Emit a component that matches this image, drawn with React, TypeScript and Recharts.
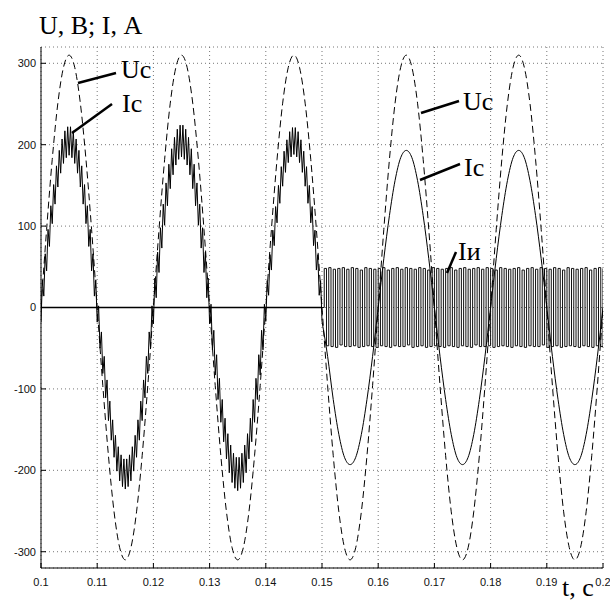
import React from 'react';
import { LineChart, Line, XAxis, YAxis, CartesianGrid } from 'recharts';

// Mains voltage Uc, sampled every 0.001 s from t = 0.1 s
const ucStart = 0.1;
const ucStep = 0.001;
const ucValues = [
  0, 96, 182, 251, 295, 310, 295, 251, 182, 96, 0, -96, -182, -251, -295, -310, -295, -251, -182, -96,
  0, 96, 182, 251, 295, 310, 295, 251, 182, 96, 0, -96, -182, -251, -295, -310, -295, -251, -182, -96,
  0, 96, 182, 251, 295, 310, 295, 251, 182, 96, 0, -96, -182, -251, -295, -310, -295, -251, -182, -96,
  0, 96, 182, 251, 295, 310, 295, 251, 182, 96, 0, -96, -182, -251, -295, -310, -295, -251, -182, -96,
  0, 96, 182, 251, 295, 310, 295, 251, 182, 96, 0, -96, -182, -251, -295, -310, -295, -251, -182, -96,
  0,
];

// Mains current Ic with switching ripple (0.1 .. 0.15 s), every 0.00025 s
const icRippleStart = 0.1;
const icRippleStep = 0.00025;
const icRippleValues = [
  -18, 34, 14, 66, 45, 96, 75, 125, 103, 151, 127, 174, 148, 193, 165, 207, 177, 217, 184, 222,
  187, 222, 184, 217, 177, 207, 165, 193, 148, 174, 127, 151, 103, 125, 75, 96, 45, 66, 14, 34,
  -18, 2, -50, -30, -81, -60, -111, -89, -139, -115, -163, -138, -184, -157, -201, -171, -213, -181, -220, -186,
  -223, -186, -220, -181, -213, -171, -201, -157, -184, -138, -163, -115, -139, -89, -111, -60, -81, -30, -50, 2,
  -20, 36, 12, 68, 43, 98, 73, 127, 101, 153, 125, 176, 146, 195, 163, 209, 175, 219, 182, 224,
  185, 224, 182, 219, 175, 209, 163, 195, 146, 176, 125, 153, 101, 127, 73, 98, 43, 68, 12, 36,
  -20, 4, -52, -28, -83, -58, -113, -87, -141, -113, -165, -136, -186, -155, -203, -169, -215, -179, -222, -184,
  -225, -184, -222, -179, -215, -169, -203, -155, -186, -136, -165, -113, -141, -87, -113, -58, -83, -28, -52, 4,
  -17, 33, 15, 65, 46, 95, 76, 124, 104, 150, 128, 173, 149, 192, 166, 206, 178, 216, 185, 221,
  188, 221, 185, 216, 178, 206, 166, 192, 149, 173, 128, 150, 104, 124, 76, 95, 46, 65, 15, 33,
  -17,
];

// Mains current Ic after compensation (0.15 .. 0.2 s), every 0.001 s
const icSmoothStart = 0.15;
const icSmoothStep = 0.001;
const icSmoothValues = [
  -17, -60, -113, -156, -184, -193, -184, -156, -113, -60, 0, 60, 113, 156, 184, 193, 184, 156, 113, 60,
  0, -60, -113, -156, -184, -193, -184, -156, -113, -60, 0, 60, 113, 156, 184, 193, 184, 156, 113, 60,
  0, -60, -113, -156, -184, -193, -184, -156, -113, -60, 0,
];

// Inverter current Iи: idle until 0.15 s, then switching (every 0.0004 s)
const iiIdleTimes = [0.1, 0.15];
const iiIdleValues = [0, 0];
const iiSwitchStart = 0.15;
const iiSwitchStep = 0.0004;
const iiSwitchValues = [
  0, 48, -47, 49, -48, 47, -49, 48, -46, 49, -48,
  47, -48, 49, -47, 48, -49, 46, -48, 49, -47,
  48, -48, 47, -49, 48, -47, 49, -48, 46, -49,
  48, -47, 49, -48, 47, -48, 49, -46, 48, -49,
  47, -48, 49, -47, 48, -49, 46, -48, 49, -47,
  48, -48, 47, -49, 48, -47, 49, -48, 46, -49,
  48, -47, 49, -48, 47, -49, 48, -46, 49, -48,
  47, -48, 49, -47, 48, -49, 46, -48, 49, -47,
  48, -48, 47, -49, 48, -47, 49, -48, 46, -49,
  48, -47, 49, -48, 47, -48, 49, -46, 48, -49,
  47, -48, 49, -47, 48, -49, 46, -48, 49, -47,
  48, -48, 47, -49, 48, -47, 49, -48, 46, -49,
  48, -47, 49, -48, 48,
];

const xTicks = [0.1, 0.11, 0.12, 0.13, 0.14, 0.15, 0.16, 0.17, 0.18, 0.19, 0.2];
const xTickLabels = ['0.1', '0.11', '0.12', '0.13', '0.14', '0.15', '0.16', '0.17', '0.18', '0.19', '0.2'];
const yTicks = [-300, -200, -100, 0, 100, 200, 300];
const yTickLabels = ['-300', '-200', '-100', '0', '100', '200', '300'];

const toSeries = (start: number, step: number, values: number[]) =>
  values.map((v, i) => ({ t: +(start + i * step).toFixed(5), v }));

const ucData = toSeries(ucStart, ucStep, ucValues);
const icRippleData = toSeries(icRippleStart, icRippleStep, icRippleValues);
const icSmoothData = toSeries(icSmoothStart, icSmoothStep, icSmoothValues);
const iiIdleData = iiIdleTimes.map((t, i) => ({ t, v: iiIdleValues[i] }));
const iiSwitchData = toSeries(iiSwitchStart, iiSwitchStep, iiSwitchValues);

const tickFont = { fontFamily: '"Liberation Sans", Arial, sans-serif', fontSize: 11, fill: '#111' };
const serif = '"Liberation Serif", "DejaVu Serif", serif';

const XTick = (props: any) => {
  const { x, y, payload } = props;
  const idx = xTicks.findIndex((v) => Math.abs(v - payload.value) < 1e-6);
  return (
    <g>
      <line x1={x} x2={x} y1={y - 10} y2={y - 15} stroke="#000" strokeWidth={1} />
      <text x={x} y={y} dy="0.71em" textAnchor="middle" {...tickFont}>
        {idx >= 0 ? xTickLabels[idx] : payload.value}
      </text>
    </g>
  );
};

const YTick = (props: any) => {
  const { x, y, payload } = props;
  const idx = yTicks.indexOf(payload.value);
  return (
    <g>
      <line x1={x + 5} x2={x + 10} y1={y} y2={y} stroke="#000" strokeWidth={1} />
      <text x={x} y={y} dy="0.355em" textAnchor="end" {...tickFont}>
        {idx >= 0 ? yTickLabels[idx] : payload.value}
      </text>
    </g>
  );
};

export default function App() {
  return (
    <div style={{ position: 'absolute', left: 0, top: 0, width: 610, height: 605, background: '#fff' }}>
      <LineChart width={610} height={605} margin={{ top: 47, right: 7, bottom: 0, left: 0 }}>
        <CartesianGrid stroke="#777" strokeDasharray="1 3" strokeWidth={1} />
        <XAxis
          dataKey="t"
          type="number"
          domain={[0.1, 0.2]}
          ticks={xTicks}
          allowDataOverflow
          height={37}
          tickSize={0}
          tickMargin={10}
          tickLine={false}
          axisLine={{ stroke: '#000' }}
          tick={<XTick />}
          interval={0}
        />
        <XAxis
          xAxisId="top"
          orientation="top"
          dataKey="t"
          type="number"
          domain={[0.1, 0.2]}
          height={0}
          tick={false}
          tickLine={false}
          axisLine={{ stroke: '#000' }}
        />
        <YAxis
          type="number"
          domain={[-320, 320]}
          ticks={yTicks}
          allowDataOverflow
          width={41}
          tickSize={0}
          tickMargin={5}
          tickLine={false}
          axisLine={{ stroke: '#000' }}
          tick={<YTick />}
          interval={0}
        />
        <YAxis
          yAxisId="right"
          orientation="right"
          type="number"
          domain={[-320, 320]}
          width={0}
          tick={false}
          tickLine={false}
          axisLine={{ stroke: '#000' }}
        />
        <Line data={iiIdleData} dataKey="v" type="linear" stroke="#000" strokeWidth={1.6} dot={false} isAnimationActive={false} />
        <Line data={iiSwitchData} dataKey="v" type="stepAfter" stroke="#111" strokeWidth={1} dot={false} isAnimationActive={false} />
        <Line data={icRippleData} dataKey="v" type="linear" stroke="#000" strokeWidth={1} dot={false} isAnimationActive={false} />
        <Line data={icSmoothData} dataKey="v" type="monotone" stroke="#000" strokeWidth={1} dot={false} isAnimationActive={false} />
        <Line data={ucData} dataKey="v" type="monotone" stroke="#000" strokeWidth={1} strokeDasharray="7 4" dot={false} isAnimationActive={false} />
      </LineChart>
      <svg width={610} height={605} style={{ position: 'absolute', left: 0, top: 0, pointerEvents: 'none' }}>
        <text x={39} y={34} fontFamily={serif} fontSize={26} fill="#000">U, В; I, А</text>
        <line x1={78} y1={83} x2={116} y2={73} stroke="#000" strokeWidth={2.5} />
        <text x={121} y={78} fontFamily={serif} fontSize={26} fill="#000">Uс</text>
        <line x1={72} y1={133} x2={112} y2={104} stroke="#000" strokeWidth={2.5} />
        <text x={122} y={112} fontFamily={serif} fontSize={26} fill="#000">Iс</text>
        <line x1={421} y1={113} x2={459} y2={101} stroke="#000" strokeWidth={2.5} />
        <text x={463} y={110} fontFamily={serif} fontSize={26} fill="#000">Uс</text>
        <line x1={420} y1={180} x2={460} y2={164} stroke="#000" strokeWidth={2.5} />
        <text x={464} y={176} fontFamily={serif} fontSize={26} fill="#000">Iс</text>
        <line x1={447} y1={273} x2={456} y2={252} stroke="#000" strokeWidth={2.5} />
        <text x={458} y={260} fontFamily={serif} fontSize={26} fill="#000">Iи</text>
        <text x={562} y={596} fontFamily={serif} fontSize={26} fill="#000">t, с</text>
      </svg>
    </div>
  );
}
